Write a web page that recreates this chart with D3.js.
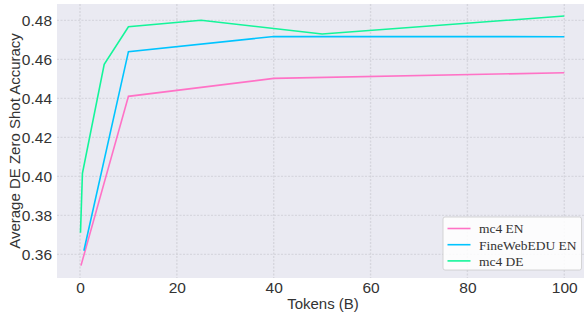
<!DOCTYPE html>
<html>
<head>
<meta charset="utf-8">
<script src="https://cdn.jsdelivr.net/npm/d3@7"></script>
<style>
  body { margin: 0; background: #fff; }
  svg { display: block; }
  .tick text { font-family: "Liberation Sans", Arial, sans-serif; font-size: 15.5px; fill: #333; }
</style>
</head>
<body>
<svg id="chart" width="584" height="314"></svg>
<script>
// values
const mc4EnTokens = [0.2, 10, 40, 100];
const mc4EnAcc = [0.3542, 0.441, 0.4502, 0.4531];
const fineWebTokens = [0.8, 10, 40, 100];
const fineWebAcc = [0.3618, 0.4639, 0.4717, 0.4716];
const mc4DeTokens = [0.1, 0.5, 5, 10, 25, 50, 100];
const mc4DeAcc = [0.3711, 0.4015, 0.4574, 0.4767, 0.480, 0.4730, 0.4822];
const xTicks = [0, 20, 40, 60, 80, 100];
const yTicks = [0.36, 0.38, 0.40, 0.42, 0.44, 0.46, 0.48];

const series = [
  { name: 'mc4 EN', color: '#ff72c6', xs: mc4EnTokens, ys: mc4EnAcc },
  { name: 'FineWebEDU EN', color: '#00c4ff', xs: fineWebTokens, ys: fineWebAcc },
  { name: 'mc4 DE', color: '#14f59a', xs: mc4DeTokens, ys: mc4DeAcc }
];

const svg = d3.select('#chart');
const plotLeft = 57, plotRight = 584, plotTop = 4, plotBottom = 278;

// 0 sits at x=80 and 100 at x=564
const x = d3.scaleLinear().domain([0, 100]).range([80, 564.3]);
const y = d3.scaleLinear().domain([0.36, 0.48]).range([254.3, 20.3]);

svg.append('rect')
  .attr('x', plotLeft).attr('y', plotTop)
  .attr('width', plotRight - plotLeft).attr('height', plotBottom - plotTop)
  .attr('fill', '#eaeaf2');

const grid = svg.append('g');
grid.selectAll('.vg').data(xTicks).enter().append('line')
  .attr('x1', d => x(d)).attr('x2', d => x(d))
  .attr('y1', plotTop).attr('y2', plotBottom)
  .attr('stroke', '#d6d6de').attr('stroke-width', 1.4)
  .attr('stroke-dasharray', '2,1.5');
grid.selectAll('.hg').data(yTicks).enter().append('line')
  .attr('x1', plotLeft).attr('x2', plotRight)
  .attr('y1', d => y(d)).attr('y2', d => y(d))
  .attr('stroke', '#cdcdd4').attr('stroke-width', 0.8)
  .attr('stroke-dasharray', '2,1.5');

const xAxis = svg.append('g')
  .attr('transform', `translate(0,${plotBottom})`)
  .call(d3.axisBottom(x).tickValues(xTicks).tickSize(0).tickPadding(4));
xAxis.select('.domain').remove();

const yAxis = svg.append('g')
  .attr('transform', `translate(${plotLeft},0)`)
  .call(d3.axisLeft(y).tickValues(yTicks).tickSize(0).tickPadding(5).tickFormat(d3.format('.2f')));
yAxis.select('.domain').remove();

svg.append('text')
  .attr('x', 323).attr('y', 309)
  .attr('text-anchor', 'middle')
  .attr('font-family', '"Liberation Sans", Arial, sans-serif')
  .attr('font-size', 15).attr('fill', '#333')
  .text('Tokens (B)');

svg.append('text')
  .attr('transform', 'translate(19.5,141) rotate(-90)')
  .attr('text-anchor', 'middle')
  .attr('font-family', '"Liberation Sans", Arial, sans-serif')
  .attr('font-size', 15).attr('fill', '#333')
  .text('Average DE Zero Shot Accuracy');

const line = d3.line().x(d => x(d[0])).y(d => y(d[1]));
svg.append('g').selectAll('path').data(series).enter().append('path')
  .attr('d', s => line(s.xs.map((v, i) => [v, s.ys[i]])))
  .attr('fill', 'none')
  .attr('stroke', s => s.color)
  .attr('stroke-width', 1.6);

// legend
const legend = svg.append('g').attr('transform', 'translate(443,217)');
legend.append('rect')
  .attr('width', 138.5).attr('height', 53)
  .attr('rx', 2)
  .attr('fill', '#fff').attr('fill-opacity', 0.85)
  .attr('stroke', '#ccc').attr('stroke-width', 0.8);
const items = legend.selectAll('.item').data(series).enter().append('g')
  .attr('transform', (d, i) => `translate(0,${11.5 + i * 16.2})`);
items.append('line')
  .attr('x1', 4.5).attr('x2', 27.5)
  .attr('stroke', d => d.color).attr('stroke-width', 1.6);
items.append('text')
  .attr('x', 36).attr('y', 4.8)
  .attr('font-family', '"Liberation Serif", "Times New Roman", serif')
  .attr('font-size', 13.5).attr('fill', '#333')
  .text(d => d.name);
</script>
</body>
</html>
